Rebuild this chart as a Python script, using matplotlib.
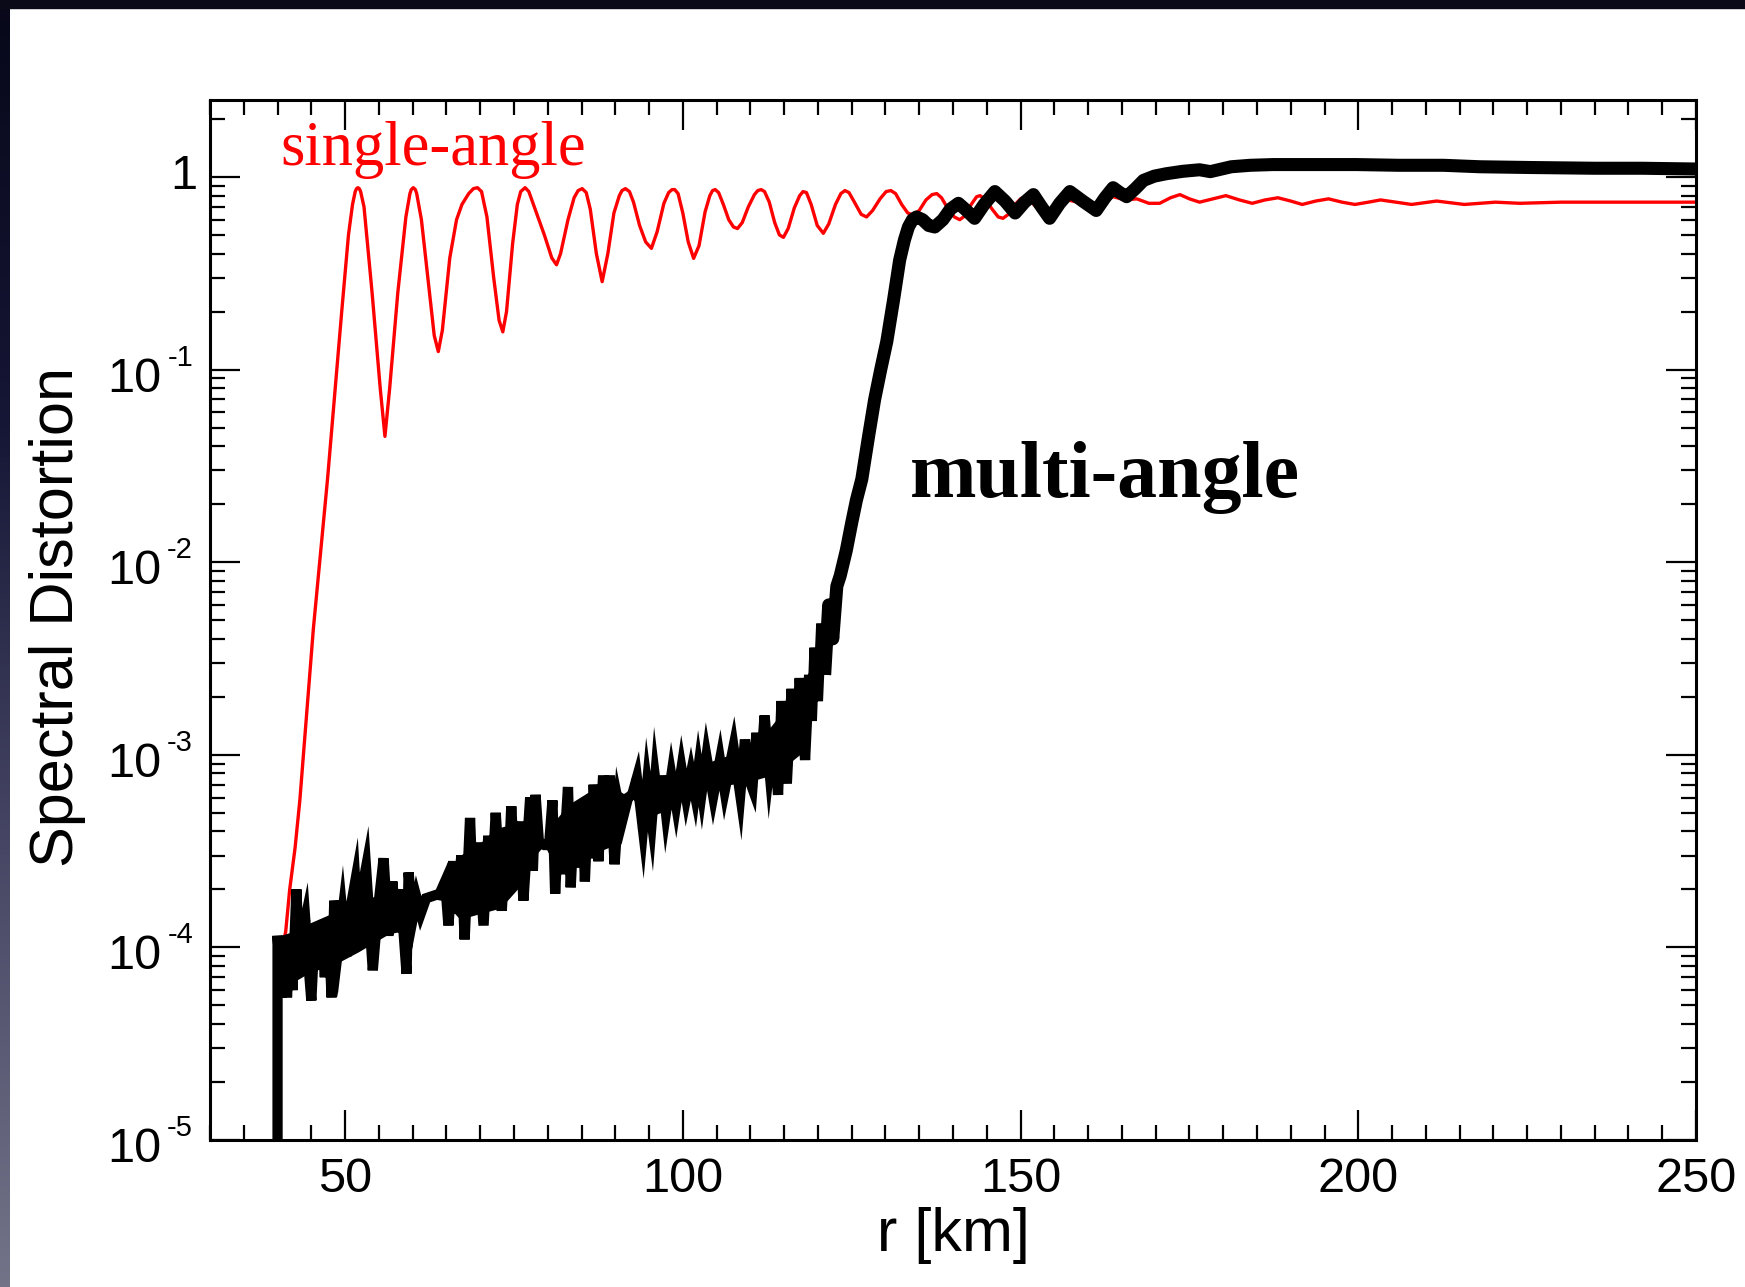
import numpy as np
import matplotlib
matplotlib.use('Agg')
import matplotlib.pyplot as plt
from matplotlib.colors import LinearSegmentedColormap
from matplotlib.patches import Rectangle
from matplotlib.ticker import FixedLocator, MultipleLocator, LogLocator, NullFormatter

# single-angle curve (red)
single_r = [40.6, 41.2, 41.8, 42.6, 43.3, 45.3, 47.4, 49.5, 50.5, 51.1, 51.5, 51.7, 51.9, 52.1, 52.3, 52.8,
            54.0, 55.2, 55.9, 56.6, 57.8, 59.0, 59.6, 59.8, 60.1, 60.4, 60.6, 61.3, 62.5, 63.2, 63.8, 64.4,
            65.5, 66.5, 67.3, 68.3, 69.0, 69.6, 70.2, 71.0, 72.0, 72.8, 73.35, 73.9,
            74.8, 75.5, 76.0, 76.65, 77.2, 77.7, 78.2, 79.5, 80.6, 81.3, 81.9, 83.0, 83.9, 84.5,
            85.1, 85.7, 86.3, 87.2, 88.06, 88.9, 89.8, 90.6, 91.0, 91.5, 92.1, 92.7, 93.6, 94.5,
            95.35, 96.2, 97.2, 97.9, 98.4, 98.8, 99.3, 100.0, 100.8, 101.6, 102.4, 103.3, 104.0,
            104.4, 104.8, 105.3, 106.0, 106.8, 107.5, 108.1, 108.8, 109.7, 110.6, 111.1, 111.6,
            112.1, 112.8, 113.6, 114.3, 114.9, 115.6, 116.5, 117.3, 117.8, 118.3, 119.0, 119.9,
            120.8, 121.6, 122.6, 123.4, 124.0, 124.6, 125.5, 126.4, 127.2, 128.1, 129.2, 130.1,
            130.8, 131.5, 132.4, 133.3, 134.1, 135.0, 136.0, 136.9, 137.6, 138.3, 139.3, 140.2,
            141.0, 141.8, 142.7, 143.5, 144.0, 144.7, 145.8, 146.7, 147.4, 148.2, 149.2, 150.0,
            150.6, 151.3, 152.3, 153.3, 154.0, 155.2, 157.0, 158.5, 160.0, 161.5, 163.7,
            165.5, 167.2, 169.0, 170.6, 172.2, 173.6, 175.0, 176.5, 178.5, 180.4, 182.4, 184.3,
            186.2, 188.1, 190.0, 191.7, 193.7, 195.6, 197.6, 199.5, 201.5, 203.3, 205.6, 207.9,
            211.6, 215.7, 220.3, 223.9, 230.0, 240.0, 250.0]
single_d = [1.0e-4, 1.2e-4, 2.0e-4, 3.3e-4, 5.8e-4, 4.5e-3, 2.7e-2, 0.20, 0.50, 0.72, 0.84, 0.87, 0.88, 0.87, 0.84, 0.70,
            0.25, 0.08, 0.045, 0.08, 0.25, 0.62, 0.82, 0.86, 0.88, 0.86, 0.82, 0.60, 0.25, 0.15, 0.124, 0.16,
            0.38, 0.60, 0.72, 0.82, 0.87, 0.88, 0.84, 0.62, 0.30, 0.18, 0.157, 0.20,
            0.45, 0.72, 0.84, 0.88, 0.84, 0.75, 0.67, 0.50, 0.38, 0.35, 0.40, 0.60, 0.78, 0.85,
            0.87, 0.83, 0.68, 0.40, 0.286, 0.40, 0.65, 0.80, 0.85, 0.87, 0.84, 0.74, 0.56, 0.46,
            0.426, 0.52, 0.73, 0.83, 0.86, 0.86, 0.82, 0.65, 0.46, 0.378, 0.44, 0.66, 0.80,
            0.85, 0.86, 0.83, 0.72, 0.60, 0.55, 0.54, 0.58, 0.70, 0.81, 0.85, 0.86,
            0.84, 0.74, 0.58, 0.50, 0.486, 0.54, 0.69, 0.80, 0.84, 0.83, 0.72, 0.56,
            0.51, 0.57, 0.72, 0.82, 0.85, 0.83, 0.73, 0.64, 0.62, 0.67, 0.77, 0.84,
            0.85, 0.82, 0.72, 0.65, 0.635, 0.67, 0.76, 0.81, 0.82, 0.78, 0.68, 0.62,
            0.60, 0.63, 0.72, 0.79, 0.80, 0.77, 0.68, 0.62, 0.61, 0.64, 0.72, 0.77,
            0.785, 0.76, 0.70, 0.66, 0.66, 0.70, 0.76, 0.74, 0.70, 0.72, 0.79,
            0.76, 0.77, 0.73, 0.73, 0.78, 0.81, 0.77, 0.74, 0.77, 0.80, 0.76, 0.73,
            0.76, 0.78, 0.75, 0.72, 0.75, 0.77, 0.74, 0.72, 0.74, 0.76, 0.74, 0.72,
            0.75, 0.72, 0.74, 0.73, 0.74, 0.74, 0.74]

# multi-angle curve (black), noisy part read spike by spike
multi_r = [40.0, 40.0, 40.6, 41.0, 41.4, 41.8, 42.2, 42.8, 43.2, 43.7, 44.1, 44.6, 45.0, 45.5,
           46.0, 46.5, 47.0, 47.5, 48.0, 48.4, 49.0, 49.6, 50.2, 50.8, 51.5, 52.0, 52.5, 53.1,
           54.1, 54.8, 55.7, 56.4, 57.0, 57.6, 58.2, 59.1, 59.4, 60.0, 60.6, 61.2, 62.0, 63.0,
           64.0, 64.8, 65.3, 66.0, 66.6, 67.2, 67.7, 68.5, 69.0, 69.6, 70.5, 71.2, 71.7, 72.3,
           73.2, 73.8, 74.2, 74.6, 75.2, 75.8, 76.4, 77.4, 77.8, 78.2, 78.7, 79.5, 80.2, 80.7,
           81.1, 81.6, 82.2, 83.0, 83.4, 84.0, 84.6, 85.2, 85.5, 86.0, 86.4, 86.8, 87.5, 88.2,
           88.7, 89.2, 89.9, 90.5, 91.0, 91.9, 92.5, 93.2, 94.1, 94.7, 95.4, 95.9, 96.5, 96.9,
           97.5, 98.3, 99.0, 99.8, 100.5, 101.2, 101.8, 102.3, 102.8, 103.5, 104.5, 105.5, 106.2,
           107.0, 107.5, 108.5, 109.2, 109.8, 110.3, 110.9, 111.5, 112.1, 112.8, 113.4, 114.1,
           114.6, 115.4, 116.1, 116.7, 117.3, 118.1, 118.7, 119.1, 119.5, 120.0, 120.5, 121.0,
           121.6, 122.2, 122.8, 123.3, 124.2, 125.0, 125.7, 126.5, 127.5, 128.4, 129.3, 130.2,
           131.2, 132.1, 132.8, 133.4, 134.0, 134.6, 135.5, 136.4, 137.3, 138.5, 139.6, 140.8,
           142.0, 143.2, 144.6, 146.2, 147.7, 149.2, 150.6, 151.9, 153.1, 154.3, 155.8, 157.3,
           159.2, 161.2, 162.5, 163.7, 164.7, 165.7, 167.0, 168.2, 169.8, 171.6, 174.0, 176.5,
           178.1, 181.2, 184.0, 187.4, 193.0, 199.7, 206.0, 212.6, 218.0, 225.4, 235.0, 242.0, 250.0]
multi_d = [8e-6, 1.15e-4, 5.5e-5, 1.1e-4, 5.5e-5, 1.1e-4, 6.0e-5, 2.0e-4, 8.0e-5, 1.2e-4, 1.4e-4, 8.0e-5, 5.3e-5, 1.2e-4,
           8.0e-5, 1.3e-4, 7.0e-5, 1.4e-4, 5.5e-5, 1.75e-4, 1.0e-4, 1.5e-4, 9.0e-5, 1.6e-4, 2.2e-4, 1.1e-4, 2.0e-4, 2.6e-4,
           7.6e-5, 1.5e-4, 2.9e-4, 1.15e-4, 2.2e-4, 1.2e-4, 2.0e-4, 7.3e-5, 2.45e-4, 1.4e-4, 1.8e-4, 1.5e-4, 1.8e-4, 1.85e-4,
           1.9e-4, 2.2e-4, 1.3e-4, 2.8e-4, 1.5e-4, 3.0e-4, 1.1e-4, 4.7e-4, 1.6e-4, 3.5e-4, 1.3e-4, 3.8e-4, 2.0e-4, 5.0e-4,
           1.55e-4, 4.0e-4, 2.5e-4, 5.4e-4, 2.2e-4, 4.5e-4, 1.75e-4, 6.0e-4, 2.5e-4, 6.2e-4, 3.5e-4, 3.4e-4, 3.4e-4, 5.8e-4,
           1.9e-4, 4.5e-4, 2.4e-4, 6.8e-4, 2.05e-4, 5.5e-4, 2.6e-4, 5.0e-4, 2.2e-4, 6.0e-4, 2.9e-4, 7.0e-4, 2.8e-4, 7.8e-4,
           4.0e-4, 7.8e-4, 2.7e-4, 5.5e-4, 4.5e-4, 6.0e-4, 6.2e-4, 7.6e-4, 4.1e-4, 7.0e-4, 4.5e-4, 7.5e-4, 5.0e-4, 7.8e-4,
           5.0e-4, 7.8e-4, 5.5e-4, 8.5e-4, 6.0e-4, 8.0e-4, 6.2e-4, 8.5e-4, 6.4e-4, 9.8e-4, 6.1e-4, 9.4e-4, 6.5e-4,
           9.0e-4, 1.1e-3, 6.2e-4, 1.2e-3, 7.5e-4, 6.7e-4, 1.3e-3, 8.0e-4, 1.6e-3, 8.5e-4, 1.3e-3, 6.2e-4,
           1.9e-3, 7.1e-4, 2.2e-3, 1.0e-3, 2.5e-3, 9.4e-4, 2.6e-3, 1.5e-3, 3.6e-3, 1.9e-3, 4.8e-3, 2.6e-3,
           6.0e-3, 4.0e-3, 7.5e-3, 8.5e-3, 1.15e-2, 1.6e-2, 2.1e-2, 2.7e-2, 4.5e-2, 7.0e-2, 0.10, 0.14,
           0.23, 0.37, 0.47, 0.55, 0.60, 0.62, 0.60, 0.56, 0.55, 0.60, 0.68, 0.73,
           0.67, 0.61, 0.72, 0.84, 0.75, 0.65, 0.74, 0.81, 0.70, 0.61, 0.73, 0.84,
           0.75, 0.67, 0.78, 0.88, 0.83, 0.79, 0.87, 0.96, 1.01, 1.04, 1.07, 1.09,
           1.066, 1.13, 1.15, 1.16, 1.16, 1.16, 1.15, 1.15, 1.13, 1.12, 1.11, 1.11, 1.10]

# solid core of the noisy multi-angle band
band_r = [40.3, 42.0, 45.0, 48.0, 52.0, 56.0, 59.0, 61.0, 62.5, 64.5, 67.0, 70.0, 73.0, 76.0,
          78.5, 79.5, 80.5, 83.0, 86.0, 89.0, 91.2, 92.4, 95.0, 98.0, 101.0, 104.0, 107.0,
          110.0, 113.0, 116.0, 118.0, 120.0, 122.0, 123.5]
band_lo = [6.5e-5, 6.5e-5, 7.5e-5, 8.0e-5, 9.5e-5, 1.15e-4, 1.25e-4, 1.6e-4, 1.8e-4, 1.75e-4, 1.4e-4, 1.5e-4,
           1.6e-4, 2.1e-4, 3.1e-4, 3.4e-4, 2.9e-4, 2.6e-4, 3.0e-4, 3.3e-4, 5.4e-4, 6.0e-4, 4.7e-4,
           5.3e-4, 6.1e-4, 6.6e-4, 7.0e-4, 7.3e-4, 7.8e-4, 9.2e-4, 1.05e-3, 2.1e-3, 4.1e-3, 9.0e-3]
band_hi = [1.15e-4, 1.2e-4, 1.35e-4, 1.5e-4, 1.75e-4, 1.9e-4, 1.9e-4, 1.8e-4, 1.85e-4, 2.2e-4, 3.0e-4, 3.5e-4,
           4.2e-4, 4.5e-4, 3.9e-4, 3.5e-4, 4.3e-4, 5.5e-4, 6.4e-4, 7.0e-4, 6.3e-4, 6.3e-4, 7.2e-4,
           7.6e-4, 8.2e-4, 9.2e-4, 1.0e-3, 1.15e-3, 1.4e-3, 1.9e-3, 2.3e-3, 3.9e-3, 6.3e-3, 1.0e-2]

x_ticks = [50, 100, 150, 200, 250]
y_exps = [-5, -4, -3, -2, -1, 0]

SANS = 'Liberation Sans'
SERIF = 'Liberation Serif'
plt.rcParams['font.family'] = SANS

fig = plt.figure(figsize=(17.45, 12.87), dpi=100)
fig.patch.set_facecolor('white')

# dark slide frame on the left and top
cmap = LinearSegmentedColormap.from_list('frame', ['#08081a', '#161636', '#484866', '#737388'])
strip = fig.add_axes([0, 0, 10 / 1745, 1])
strip.imshow(np.linspace(0, 1, 256).reshape(-1, 1), aspect='auto', cmap=cmap)
strip.axis('off')
fig.patches.append(Rectangle((0, 1 - 8 / 1287), 1, 8 / 1287, transform=fig.transFigure,
                             color='#0a0a18', zorder=5))

ax = fig.add_axes([210 / 1745, 147 / 1287, 1486 / 1745, 1040 / 1287])
ax.plot(single_r, single_d, color='#ff0000', lw=2.4, zorder=2)

# noisy stretch with sharp joins, smooth stretch with round ones
cut = multi_r.index(121.0)
ax.fill_between(band_r, band_lo, band_hi, color='black', lw=0, zorder=3)
ax.plot(multi_r[:cut + 1], multi_d[:cut + 1], color='black', lw=7.4,
        solid_joinstyle='miter', solid_capstyle='butt', zorder=3)
ax.plot(multi_r[cut:], multi_d[cut:], color='black', lw=9.4,
        solid_joinstyle='round', solid_capstyle='butt', zorder=3)

ax.set_yscale('log')
ax.set_xlim(30, 250)
ax.set_ylim(1e-5, 2.51)

ax.xaxis.set_major_locator(FixedLocator(x_ticks))
ax.xaxis.set_minor_locator(MultipleLocator(5))
ax.set_yticks([10.0 ** e for e in y_exps])
ax.yaxis.set_minor_locator(LogLocator(base=10, subs=np.arange(2, 10), numticks=30))
ax.yaxis.set_minor_formatter(NullFormatter())
ax.set_yticklabels([''] * len(y_exps))

for s in ax.spines.values():
    s.set_linewidth(2.2)
ax.tick_params(which='both', direction='in', top=True, right=True, width=1.6)
ax.tick_params(which='major', length=21.6, labelsize=35, pad=12)
ax.tick_params(which='minor', length=10.8)

# y tick labels as 10 with a small raised exponent
ytr = ax.get_yaxis_transform()
for e in y_exps:
    if e == 0:
        ax.annotate('1', xy=(0, 1.0), xycoords=ytr, xytext=(-9.4, 0), textcoords='offset points',
                    ha='right', va='center', fontsize=35)
        continue
    sup = ax.annotate(str(e), xy=(0, 10.0 ** e), xycoords=ytr, xytext=(-12.2, 8.6),
                      textcoords='offset points', ha='right', va='center', fontsize=21)
    ax.annotate('10', xy=(0, 10.0 ** e), xycoords=(sup, ytr), xytext=(-4.3, -6.8),
                textcoords='offset points', ha='right', va='center', fontsize=35)

ax.set_xlabel('r [km]', fontsize=44)
ax.xaxis.set_label_coords(0.5, -0.0644)
ax.xaxis.label.set_verticalalignment('top')
ax.set_ylabel('Spectral Distortion', fontsize=44)
ax.yaxis.set_label_coords(-0.1023, 0.503)
ax.yaxis.label.set_verticalalignment('center')

ax.text(40.4, 1.154, 'single-angle', color='#ff0000', fontsize=45, family=SERIF,
        ha='left', va='baseline')
ax.text(133.6, 0.0217, 'multi-angle', color='black', fontsize=57.5, family=SERIF,
        fontweight='bold', ha='left', va='baseline')

fig.savefig('out.png', dpi=100, facecolor='white')
